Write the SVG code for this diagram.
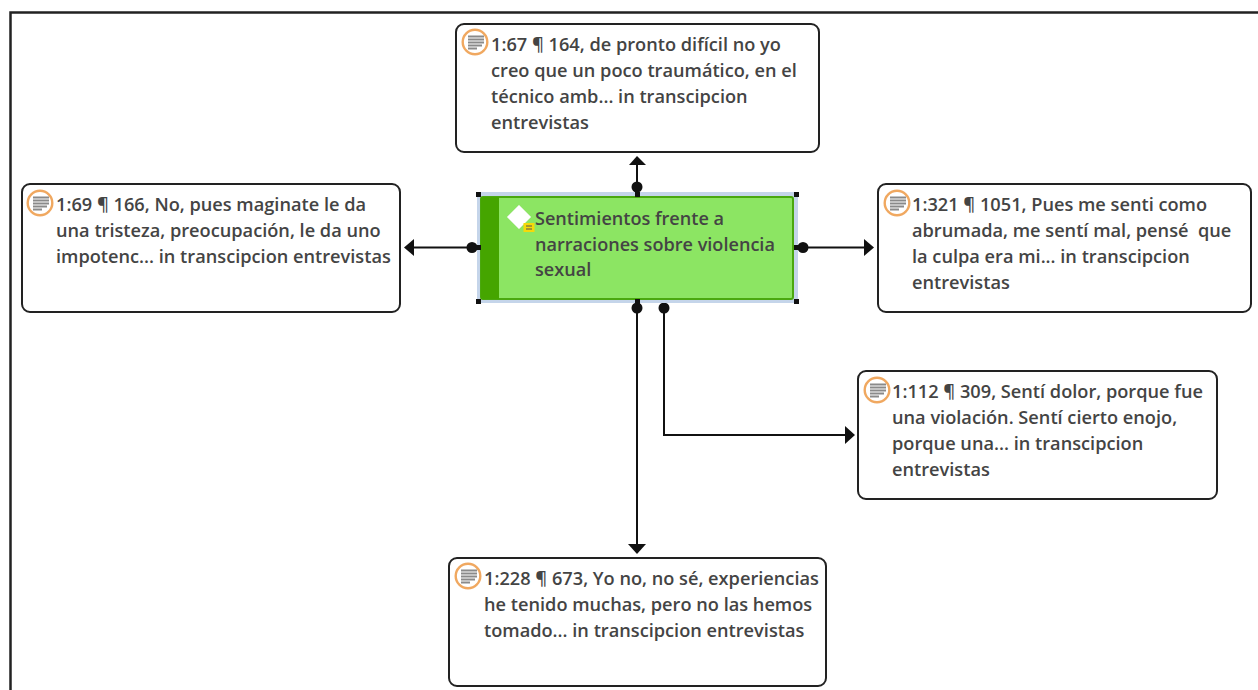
<svg xmlns="http://www.w3.org/2000/svg" width="1258" height="690" viewBox="0 0 1258 690">
<style>
.n{fill:#fff;stroke:#222;stroke-width:2}
.t{font-family:"Open Sans","Noto Sans",sans-serif;font-weight:600;font-size:18.2px;fill:#444}
.c{fill:none;stroke:#111;stroke-width:2}
.h{fill:#111}
.ic{fill:#fff;stroke:#f0a860;stroke-width:2.400}
.il{stroke:#8a8a8a;stroke-width:2}
</style>
<defs>
<g id="icon"><circle cx="13" cy="13" r="12.300" class="ic"/><path class="il" d="M6 7.500H22M6 10.500H22M6 13.500H22M6 16.500H20M6 19.500H15"/></g>
</defs>
<path d="M10.500 690V12.500H1258" fill="none" stroke="#222" stroke-width="2.500"/>
<g id="connectors">
<path class="c" d="M637 187V165"/><path class="h" d="M629 165L637 156L646 165Z"/><circle class="h" cx="637" cy="187" r="5.500"/>
<path class="c" d="M472 247.500H413"/><path class="h" d="M414 239L404 247.500L414 256Z"/><circle class="h" cx="472" cy="247.500" r="5.500"/>
<path class="c" d="M803 247.500H864"/><path class="h" d="M864 239L874 247.500L864 256Z"/><circle class="h" cx="803" cy="247.500" r="5.500"/>
<path class="c" d="M637 308V545"/><path class="h" d="M628 544L637 554L646 544Z"/><circle class="h" cx="637" cy="308" r="5.500"/>
<path class="c" d="M664 308V435H845"/><path class="h" d="M845 426L855 435L845 444Z"/><circle class="h" cx="664" cy="308" r="5.500"/>
</g>
<g id="n1"><rect class="n" x="456" y="24" width="363" height="128" rx="8"/><use href="#icon" x="462" y="29"/>
<text class="t"><tspan x="491" y="51">1:67 ¶ 164, de pronto difícil no yo</tspan><tspan x="491" y="77">creo que un poco traumático, en el</tspan><tspan x="491" y="103">técnico amb... in transcipcion</tspan><tspan x="491" y="129">entrevistas</tspan></text></g>
<g id="n2"><rect class="n" x="22" y="184" width="378" height="128" rx="8"/><use href="#icon" x="27" y="190"/>
<text class="t"><tspan x="56" y="211">1:69 ¶ 166, No, pues maginate le da</tspan><tspan x="56" y="237">una tristeza, preocupación, le da uno</tspan><tspan x="56" y="263">impotenc... in transcipcion entrevistas</tspan></text></g>
<g id="n3"><rect class="n" x="878" y="184" width="373" height="128" rx="8"/><use href="#icon" x="884" y="190"/>
<text class="t" xml:space="preserve"><tspan x="912" y="211">1:321 ¶ 1051, Pues me senti como</tspan><tspan x="912" y="237">abrumada, me sentí mal, pensé  que</tspan><tspan x="912" y="263">la culpa era mi... in transcipcion</tspan><tspan x="912" y="289">entrevistas</tspan></text></g>
<g id="n4"><rect class="n" x="858" y="371" width="359" height="128" rx="8"/><use href="#icon" x="864" y="377"/>
<text class="t"><tspan x="892" y="398">1:112 ¶ 309, Sentí dolor, porque fue</tspan><tspan x="892" y="424">una violación. Sentí cierto enojo,</tspan><tspan x="892" y="450">porque una... in transcipcion</tspan><tspan x="892" y="476">entrevistas</tspan></text></g>
<g id="n5"><rect class="n" x="449" y="558" width="377" height="128" rx="8"/><use href="#icon" x="455" y="563"/>
<text class="t"><tspan x="484" y="585">1:228 ¶ 673, Yo no, no sé, experiencias</tspan><tspan x="484" y="611">he tenido muchas, pero no las hemos</tspan><tspan x="484" y="637">tomado... in transcipcion entrevistas</tspan></text></g>
<g id="center">
<rect x="477" y="192" width="321" height="111" fill="#c5d5ea"/>
<rect x="481" y="197" width="312" height="102" rx="2" fill="#8ce563" stroke="#4aa80f" stroke-width="2"/>
<rect x="481" y="197" width="18" height="102" fill="#45a500"/>
<path d="M519 205L531 217L519 229L507 217Z" fill="#fff" stroke="#cfeec0" stroke-width="1"/>
<rect x="523.500" y="223" width="11" height="9" fill="#f5d90a"/><path d="M526 226H532M526 229H532" stroke="#555" stroke-width="1"/>
<text class="t" style="font-size:18.100px"><tspan x="535" y="225">Sentimientos frente a</tspan><tspan x="535" y="251">narraciones sobre violencia</tspan><tspan x="535" y="276">sexual</tspan></text>
<path class="h" d="M476 192h5v5h-5zM635 192h5v5h-5zM794 192h5v5h-5zM476 245h5v5h-5zM794 245h5v5h-5zM476 299h5v5h-5zM635 299h5v5h-5zM794 299h5v5h-5z"/>
</g>
</svg>
